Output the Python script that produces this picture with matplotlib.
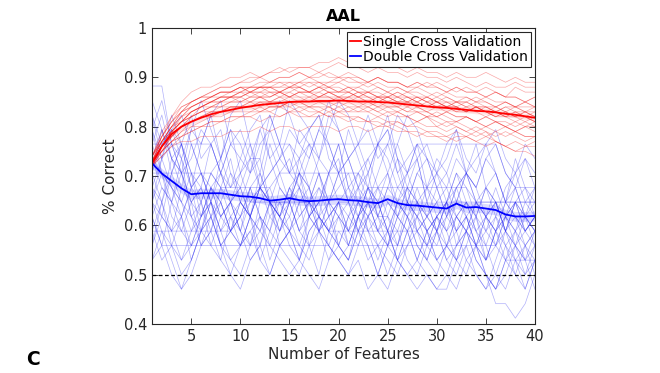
import numpy as np
import matplotlib
matplotlib.use("Agg")
import matplotlib.pyplot as plt

plt.rcParams['font.family'] = ['DejaVu Sans']

features = list(range(1, 41))

# Single cross validation: accuracy (%) per repetition
single_runs_pct = [
    [73,78,82,85,87,88,88,89,90,90,91,90,91,92,91,92,92,91,92,93,92,92,91,92,91,91,90,91,90,90,89,90,89,88,89,88,88,89,88,88],
    [73,77,80,83,85,86,87,88,88,89,90,90,91,91,92,92,92,93,93,94,93,93,92,92,93,92,91,92,91,91,90,91,90,90,91,90,89,90,89,89],
    [74,78,81,84,85,86,87,88,88,89,89,90,89,90,90,91,90,91,90,90,91,90,89,90,89,89,88,89,88,88,87,88,87,87,86,87,86,86,85,86],
    [72,76,79,82,84,85,86,87,87,88,88,88,89,89,88,89,90,89,89,90,89,89,88,89,88,88,87,88,87,86,87,86,86,85,86,85,85,84,85,84],
    [74,79,82,84,85,86,86,87,87,88,87,88,88,87,88,88,87,88,87,87,88,87,87,86,87,86,86,85,86,85,85,84,85,84,84,83,84,83,83,82],
    [73,76,79,81,83,84,85,86,86,87,87,88,88,88,89,88,89,89,88,89,88,88,89,88,87,88,87,87,86,87,86,85,86,85,85,84,85,84,83,84],
    [73,77,80,82,83,84,85,85,86,86,87,87,86,87,87,88,87,87,88,87,87,86,87,86,86,87,86,85,86,85,84,85,84,84,83,84,83,82,83,82],
    [73,76,78,80,82,83,84,85,85,86,87,87,88,88,88,89,89,88,89,89,90,89,89,90,89,89,88,89,88,89,88,87,88,87,88,87,86,88,87,87],
    [72,75,78,80,82,83,84,84,85,85,86,86,86,87,86,87,87,86,87,86,86,87,86,86,85,86,85,85,84,85,84,84,83,84,83,82,83,82,82,81],
    [74,77,79,81,82,83,83,84,84,84,85,84,85,85,84,85,84,84,83,84,83,83,84,83,82,83,82,81,82,80,81,80,79,78,79,77,76,75,76,77],
    [73,75,77,79,80,81,82,82,83,83,83,84,83,84,84,83,84,84,84,83,84,83,83,84,83,83,82,83,82,82,81,81,82,81,80,81,80,79,80,79],
    [74,78,81,83,85,86,86,87,87,88,87,88,87,87,88,87,87,86,87,86,87,86,86,85,86,86,85,86,85,85,84,85,85,84,84,83,84,84,85,84],
    [72,74,76,78,79,80,81,81,82,82,82,83,83,82,83,83,82,82,83,82,82,81,81,80,81,80,79,79,78,78,77,78,78,79,78,79,80,79,80,81],
    [73,77,80,83,84,85,85,86,86,86,87,86,87,87,86,87,87,88,87,87,87,86,87,86,86,85,86,85,84,85,84,84,83,84,83,83,82,82,83,82],
    [74,77,80,82,84,85,86,87,87,88,88,89,89,90,90,91,90,90,91,90,90,90,89,90,89,89,88,88,89,88,87,88,87,87,86,87,86,86,85,86],
    [72,75,77,78,80,80,81,81,82,82,83,83,84,84,85,85,85,86,86,85,86,86,85,86,86,85,85,86,85,84,85,84,83,84,83,82,83,82,81,82],
    [73,76,78,80,81,82,83,83,84,84,84,85,85,84,85,85,86,85,85,86,85,85,84,85,84,84,83,83,82,83,82,81,82,81,80,81,80,79,78,78],
    [72,74,76,77,77,78,78,78,79,79,79,80,79,80,80,79,80,80,80,79,80,80,79,80,80,79,79,78,79,78,78,77,78,77,76,77,76,75,75,74],
    [73,75,77,78,79,80,80,81,81,82,82,81,82,82,83,82,82,83,82,82,81,82,81,81,80,81,80,80,79,79,78,79,78,77,78,77,76,77,76,76],
    [73,76,79,81,82,84,84,85,86,86,85,86,86,87,86,86,85,86,86,85,86,85,85,84,85,84,85,84,83,84,84,83,84,83,82,83,82,83,82,81],
    [74,77,80,81,83,84,85,85,86,85,86,86,85,86,85,85,84,85,85,84,85,84,84,83,84,84,83,84,83,82,83,82,82,81,82,81,80,81,80,80],
    [72,75,78,80,81,82,82,83,84,84,85,85,85,86,86,87,86,86,87,86,86,87,86,85,86,85,85,84,85,84,84,83,83,84,83,82,82,81,82,81],
    [73,76,79,81,83,84,85,86,86,87,88,88,88,89,89,89,88,89,88,88,87,88,87,87,86,87,86,86,85,86,85,85,84,85,84,84,83,84,83,83],
    [73,75,77,79,81,82,83,83,84,84,84,85,84,84,85,84,84,83,84,83,83,84,83,82,83,82,82,81,82,81,80,81,80,79,80,79,78,79,78,78],
    [74,78,81,83,84,85,86,86,86,87,86,87,87,86,87,86,86,87,86,86,85,86,85,86,85,85,84,85,84,84,83,84,83,83,84,83,82,83,82,83],
    [73,76,78,80,81,82,82,83,83,84,84,83,84,84,83,84,83,83,82,83,82,82,81,82,81,81,80,81,80,80,79,80,79,80,79,78,79,78,77,78],
    [72,76,79,81,83,84,85,86,87,87,88,88,88,87,88,88,87,88,88,87,88,87,87,88,87,86,87,86,86,85,86,85,85,86,85,84,85,84,84,84],
    [73,77,79,81,82,83,84,84,85,85,85,86,85,85,86,85,85,85,84,85,84,84,85,84,84,83,84,83,83,82,83,82,82,81,82,81,81,80,81,80],
]

# Double cross validation: correctly classified subjects (out of 34) per repetition
n_subjects = 34
double_runs = [
    [30,30,26,24,22,23,21,22,24,22,21,23,22,22,22,20,22,23,21,22,22,24,22,21,21,19,21,23,21,20,22,21,20,22,21,19,20,22,21,20],
    [25,27,24,26,28,25,26,24,26,27,25,25,28,26,24,27,26,25,28,27,25,26,24,26,27,24,25,26,23,25,24,22,24,26,23,24,22,25,23,22],
    [19,22,19,21,18,20,22,20,18,19,21,18,20,22,21,19,18,20,21,19,18,21,20,19,18,17,19,20,18,17,19,18,20,18,17,16,18,17,16,18],
    [27,24,22,25,21,20,23,22,20,22,21,19,22,21,20,22,23,20,21,22,19,21,23,21,20,19,22,21,20,18,19,21,22,20,19,21,20,18,19,20],
    [23,21,24,26,23,22,20,23,25,22,21,23,22,24,25,23,21,22,24,25,22,21,23,22,20,22,23,25,22,20,21,23,24,22,21,20,22,23,21,20],
    [21,19,17,16,18,20,21,19,18,17,19,21,20,19,20,22,19,17,20,21,22,20,18,19,17,19,21,19,18,20,18,17,19,21,19,17,19,18,16,18],
    [26,28,25,24,27,26,28,29,26,25,27,28,25,26,29,28,27,25,27,29,28,26,27,25,26,28,27,25,26,24,25,27,24,23,25,26,24,23,25,24],
    [24,22,20,21,23,20,19,21,22,20,23,21,20,23,22,20,21,23,22,19,21,22,20,21,19,22,21,20,19,21,20,18,20,19,21,20,18,20,19,18],
    [22,24,23,21,19,20,22,19,20,21,19,20,22,21,19,18,20,21,20,22,20,19,21,20,19,21,20,18,20,21,19,18,17,19,17,15,15,14,15,17],
    [28,26,27,25,23,24,22,24,22,21,23,24,22,21,23,22,22,24,21,22,23,21,22,20,22,21,23,22,20,21,22,20,22,21,20,19,21,22,20,21],
    [20,22,24,22,21,19,20,22,20,19,21,23,22,21,23,21,22,24,22,21,20,22,23,21,23,22,21,22,20,19,21,23,21,19,18,20,21,22,20,21],
    [29,27,25,26,24,22,24,25,23,24,26,23,24,25,26,24,23,25,24,26,23,24,25,23,24,22,24,22,23,24,22,24,23,21,23,22,20,22,23,21],
    [18,20,18,16,17,19,20,18,17,19,20,18,17,19,18,17,19,20,19,18,17,18,16,17,19,18,17,16,17,16,16,18,19,17,16,17,16,18,17,19],
    [25,23,22,21,23,24,22,21,22,20,22,23,21,20,21,23,22,21,20,22,21,20,22,20,19,21,22,21,22,20,19,20,21,19,21,22,20,19,21,20],
    [23,25,27,26,24,23,26,27,24,23,25,27,25,23,22,24,26,24,22,24,25,23,22,24,26,24,22,24,25,23,21,22,24,23,21,22,20,22,21,23],
    [24,26,27,28,26,24,23,21,22,24,25,23,22,20,22,24,23,21,22,24,22,20,22,23,21,20,22,21,23,22,20,21,22,20,21,23,21,20,22,21],
    [21,19,22,20,19,21,22,20,21,19,20,21,18,20,22,20,19,21,20,19,18,20,21,22,20,18,19,21,20,18,19,21,20,19,18,20,21,19,18,19],
    [26,24,23,22,20,21,23,21,20,19,21,23,24,25,27,26,27,28,25,24,22,23,25,26,27,25,23,22,21,20,22,23,24,25,26,24,22,21,20,19],
    [22,20,19,18,19,21,22,20,22,23,21,20,19,18,17,18,20,21,19,18,17,19,21,22,20,18,17,18,20,21,22,20,18,17,16,18,20,21,19,17],
    [20,18,19,17,18,20,21,19,17,16,18,19,17,19,20,18,17,16,18,19,18,20,19,17,16,18,20,18,17,16,17,16,18,19,17,16,18,19,17,18],
    [24,27,25,23,26,24,22,25,27,24,22,23,26,24,22,25,23,21,24,26,23,22,24,21,23,25,22,24,23,21,22,24,22,21,23,22,21,23,21,22],
    [22,21,20,23,22,19,21,23,22,20,19,22,23,21,20,18,21,22,20,19,21,23,20,18,20,22,21,19,18,20,22,19,20,21,18,19,21,20,18,20],
    [27,25,26,24,25,27,26,24,23,25,24,26,27,25,24,23,25,27,26,24,25,23,24,26,25,23,24,25,22,24,23,25,24,22,23,21,23,24,22,23],
    [19,21,20,18,20,22,19,18,21,20,18,19,21,22,20,19,21,20,18,20,19,21,19,17,19,20,18,17,19,18,17,19,20,18,17,16,17,19,18,16],
    [23,22,25,24,21,22,24,23,21,22,24,25,22,21,23,24,22,20,22,23,24,22,21,23,22,21,23,20,21,22,23,21,20,22,21,20,22,21,20,21],
    [28,25,23,22,24,21,23,24,22,23,21,24,22,20,22,23,21,22,24,22,20,21,23,22,24,21,20,22,21,23,21,20,21,22,20,21,19,20,21,19],
    [21,23,22,24,22,21,23,22,20,21,23,21,19,21,22,24,21,20,22,21,19,21,22,20,21,23,22,20,19,21,20,22,21,19,20,22,20,19,20,21],
    [25,24,21,20,22,23,21,19,20,22,21,20,22,19,20,21,22,20,19,21,20,22,21,19,20,18,20,21,19,20,18,19,21,20,18,20,19,17,19,20],
    [20,20,20,20,20,20,20,20,20,21,22,22,22,22,22,22,22,21,20,20,20,20,20,20,20,20,20,20,21,22,22,22,22,22,22,22,22,22,22,22],
    [26,26,26,26,26,26,26,24,26,26,26,26,26,26,26,25,26,26,26,26,26,26,26,26,26,26,24,26,26,26,26,26,26,26,26,26,24,23,23,23],
    [18,19,19,19,19,19,19,19,19,19,19,19,19,19,19,19,19,19,19,18,19,19,19,19,19,19,19,19,19,19,19,19,19,19,19,19,18,18,18,18],
    [24,24,24,24,24,24,24,23,23,23,23,23,23,24,24,24,24,24,24,24,24,24,23,23,23,23,23,23,23,23,23,23,23,22,22,22,22,22,22,22],
    [27,29,26,25,27,29,27,25,28,29,26,24,27,29,28,26,25,27,29,27,25,26,28,26,24,26,28,27,25,24,26,27,25,24,26,27,25,24,26,25],
    [22,25,28,26,23,26,28,25,27,26,24,27,28,26,24,25,27,28,26,24,27,25,23,26,28,25,24,26,25,23,24,26,24,23,25,24,22,24,25,23],
]

# Mean accuracy across repetitions
single_mean = [0.725,0.760,0.785,0.800,0.810,0.818,0.825,0.830,0.834,0.838,0.841,0.844,0.846,0.848,0.850,0.851,0.851,0.852,0.852,0.853,0.852,0.851,0.851,0.850,0.849,0.847,0.845,0.843,0.841,0.839,0.838,0.836,0.834,0.832,0.831,0.829,0.826,0.824,0.821,0.818]
double_mean = [0.726,0.705,0.690,0.675,0.663,0.665,0.665,0.665,0.662,0.659,0.658,0.655,0.650,0.652,0.655,0.651,0.649,0.650,0.652,0.653,0.651,0.650,0.647,0.645,0.653,0.645,0.641,0.640,0.638,0.636,0.634,0.644,0.636,0.637,0.634,0.631,0.622,0.618,0.618,0.619]
single_sem = 0.006
double_sem = 0.010
chance = 0.5

fig = plt.figure(figsize=(6.6, 3.73), dpi=100)
ax = fig.add_axes([0.2303, 0.1314, 0.5803, 0.7936])

for run in double_runs:
    ax.plot(features, np.array(run) / n_subjects, color=(0.15, 0.15, 0.95), lw=0.5, alpha=0.36)
for run in single_runs_pct:
    ax.plot(features, np.array(run) / 100, color=(0.95, 0.1, 0.1), lw=0.5, alpha=0.38)

sm = np.array(single_mean)
dm = np.array(double_mean)
ax.fill_between(features, sm - single_sem, sm + single_sem, color=(1, 0.7, 0.7), alpha=0.35, lw=0)
ax.fill_between(features, dm - double_sem, dm + double_sem, color=(0.7, 0.7, 1), alpha=0.45, lw=0)
ax.plot(features, single_mean, color=(1, 0, 0), lw=1.3, label='Single Cross Validation')
ax.plot(features, double_mean, color=(0, 0, 1), lw=1.3, label='Double Cross Validation')
ax.axhline(chance, color='black', lw=0.9, ls=(0, (3, 2)))

ax.set_xlim(1, 40)
ax.set_ylim(0.4, 1.0)
ax.set_xticks([5, 10, 15, 20, 25, 30, 35, 40])
ax.set_yticks([0.4, 0.5, 0.6, 0.7, 0.8, 0.9, 1.0])
ax.set_yticklabels(['0.4', '0.5', '0.6', '0.7', '0.8', '0.9', '1'])
ax.tick_params(direction='in', top=True, right=True, labelsize=10.5,
               colors='#262626', length=4, width=0.6)
for s in ax.spines.values():
    s.set_color('#262626')
    s.set_linewidth(0.8)

ax.set_xlabel('Number of Features', fontsize=11, color='#262626', labelpad=2)
ax.set_ylabel('% Correct', fontsize=11, color='#262626', labelpad=4)
ax.set_title('AAL', fontsize=11.5, fontweight='bold', pad=5)

leg = ax.legend(loc='upper right', fontsize=10, handlelength=0.8, handletextpad=0.15,
                borderpad=0.2, labelspacing=0.1, borderaxespad=0.3,
                fancybox=False, framealpha=1, edgecolor='#262626')
leg.get_frame().set_linewidth(0.8)

fig.text(0.05, 0.035, 'C', fontsize=13.5, fontweight='bold', va='center', ha='center')

fig.savefig('out.png', dpi=100)
